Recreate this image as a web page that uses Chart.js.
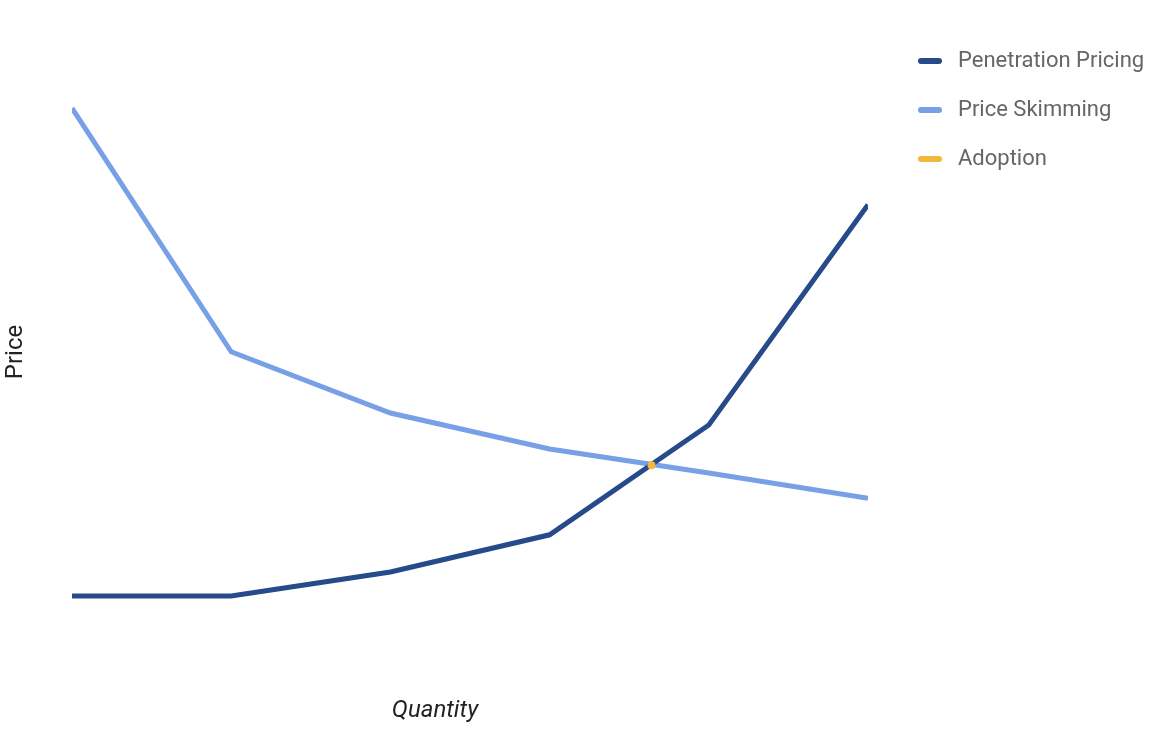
<!DOCTYPE html>
<html lang="en">
  <head>
    <meta charset="UTF-8" />
    <title>Pricing</title>
    <script src="https://cdn.jsdelivr.net/npm/chart.js"></script>
    <style>
      body { margin: 0; background: #fff; }
      #wrap { width: 1170px; height: 738px; }
    </style>
  </head>
  <body>
    <div id="wrap"><canvas id="myChart"></canvas></div>
  </body>
  <script>
    // data (quantity steps, price units 0-10)
    const quantity = [0, 1, 2, 3, 4, 5];
    const penetration = [0.9, 0.9, 1.3, 1.92, 3.75, 7.42];
    const skimming = [9.03, 4.97, 3.95, 3.35, 2.95, 2.53];
    const adoptionQty = [3.64];
    const adoptionPrice = [3.08];
    const seriesNames = ["Penetration Pricing", "Price Skimming", "Adoption"];
    const axisTitles = { x: "Quantity", y: "Price" };

    const colors = ["#264a8a", "#77a0e6", "#f1b83a"];

    const toPts = (xs, ys) => xs.map((x, i) => ({ x: x, y: ys[i] }));

    // legend + axis titles drawn by hand (Google-chart style layout)
    const decor = {
      id: "decor",
      afterDraw(chart) {
        const c = chart.ctx;
        c.save();
        c.textBaseline = "middle";
        chart.data.datasets.forEach((ds, i) => {
          const y = 61 + i * 49;
          c.fillStyle = colors[i];
          c.beginPath();
          c.roundRect(918, y - 3, 24, 6, 3);
          c.fill();
          c.fillStyle = "#666";
          c.font = "22px Roboto";
          c.textAlign = "left";
          c.fillText(ds.label, 958, y);
        });
        c.fillStyle = "#222";
        c.textAlign = "center";
        c.font = "italic 24px Roboto";
        c.fillText(axisTitles.x, 435, 711);
        c.translate(16, 352);
        c.rotate(-Math.PI / 2);
        c.font = "24px Roboto";
        c.fillText(axisTitles.y, 0, 0);
        c.restore();
      },
    };

    const ctx = document.querySelector("#myChart");
    new Chart(ctx, {
      type: "line",
      data: {
        datasets: [
          {
            label: seriesNames[0],
            data: toPts(quantity, penetration),
            borderColor: colors[0],
            borderWidth: 5,
            pointRadius: 0,
            order: 1,
          },
          {
            label: seriesNames[1],
            data: toPts(quantity, skimming),
            borderColor: colors[1],
            borderWidth: 5,
            pointRadius: 0,
            order: 2,
          },
          {
            label: seriesNames[2],
            data: toPts(adoptionQty, adoptionPrice),
            borderColor: colors[2],
            backgroundColor: colors[2],
            showLine: false,
            pointRadius: 4,
            pointBorderWidth: 0,
            order: 0,
          },
        ],
      },
      options: {
        responsive: true,
        maintainAspectRatio: false,
        animation: false,
        layout: { padding: { left: 72, right: 302, top: 50, bottom: 88 } },
        plugins: { legend: { display: false }, tooltip: { enabled: false } },
        scales: {
          x: { type: "linear", min: 0, max: 5, display: false },
          y: { min: 0, max: 10, display: false },
        },
      },
      plugins: [decor],
    });
  </script>
</html>
